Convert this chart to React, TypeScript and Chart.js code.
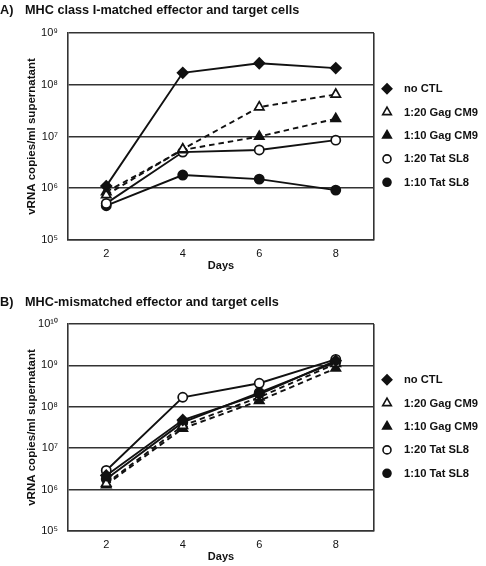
import React, { useEffect, useRef } from 'react';
import { Chart, registerables } from 'chart.js';

Chart.register(...registerables);

const days = [2, 4, 6, 8];
const seriesNames = ['no CTL', '1:20 Gag CM9', '1:10 Gag CM9', '1:20 Tat SL8', '1:10 Tat SL8'];
const panelLetters = ['A)', 'B)'];
const panelTitles = ['MHC class I-matched effector and target cells', 'MHC-mismatched effector and target cells'];
const yAxisTitle = 'vRNA copies/ml supernatant';
const xAxisTitle = 'Days';

// Panel A values (copies/ml)
const aNoCTL = [1.1e6, 1.7e8, 2.6e8, 2.1e8];
const aGag20 = [7.4e5, 5.7e6, 3.7e7, 6.5e7];
const aGag10 = [8.5e5, 5.5e6, 1.0e7, 2.2e7];
const aTat20 = [5.1e5, 5.0e6, 5.5e6, 8.5e6];
const aTat10 = [4.6e5, 1.8e6, 1.5e6, 9.2e5];

// Panel B values (copies/ml)
const bNoCTL = [2.2e6, 4.8e7, 2.0e8, 1.3e9];
const bGag20 = [1.4e6, 3.5e7, 1.7e8, 1.1e9];
const bGag10 = [1.3e6, 3.0e7, 1.4e8, 8.5e8];
const bTat20 = [2.9e6, 1.7e8, 3.7e8, 1.4e9];
const bTat10 = [1.8e6, 4.2e7, 2.2e8, 1.2e9];

const yTicksA = [1e5, 1e6, 1e7, 1e8, 1e9];
const yTicksB = [1e5, 1e6, 1e7, 1e8, 1e9, 1e10];
const xTickLabels = [2, 4, 6, 8];
const xMin = 1;
const xMax = 9;

const FONT = '"Liberation Sans", Arial, Helvetica, sans-serif';
const INK = '#111';
const GRID = '#333';

const markerStyles = ['rectRot', 'triangle', 'triangle', 'circle', 'circle'];
const markerFilled = [true, false, true, false, true];
const markerDashed = [false, true, true, false, false];
const markerRadius = [5.2, 5.4, 5.4, 4.6, 4.6];

const SUP: Record<string, string> = {
  '0': '\u2070', '1': '\u00B9', '2': '\u00B2', '3': '\u00B3', '4': '\u2074',
  '5': '\u2075', '6': '\u2076', '7': '\u2077', '8': '\u2078', '9': '\u2079',
};
const powLabel = (v: number) => {
  const e = Math.round(Math.log10(v));
  return '10' + String(e).split('').map((c) => SUP[c]).join('');
};

function drawMarker(ctx: CanvasRenderingContext2D, style: string, filled: boolean, x: number, y: number) {
  ctx.beginPath();
  if (style === 'rectRot') {
    const r = 4.8;
    ctx.moveTo(x, y - r);
    ctx.lineTo(x + r, y);
    ctx.lineTo(x, y + r);
    ctx.lineTo(x - r, y);
    ctx.closePath();
  } else if (style === 'triangle') {
    const r = 5.0;
    ctx.moveTo(x, y - r);
    ctx.lineTo(x + r * 0.866, y + r * 0.5);
    ctx.lineTo(x - r * 0.866, y + r * 0.5);
    ctx.closePath();
  } else {
    ctx.arc(x, y, 4.0, 0, Math.PI * 2);
  }
  ctx.fillStyle = filled ? INK : '#fff';
  ctx.fill();
  ctx.lineWidth = 1.6;
  ctx.strokeStyle = INK;
  ctx.stroke();
}

const decorPlugin = {
  id: 'panelDecor',
  afterDraw(chart: any, _args: any, opts: any) {
    const ctx: CanvasRenderingContext2D = chart.ctx;
    const area = chart.chartArea;
    ctx.save();
    ctx.fillStyle = INK;
    ctx.textBaseline = 'middle';
    ctx.textAlign = 'left';
    ctx.font = `bold 12.7px ${FONT}`;
    ctx.fillText(opts.letter, 0, opts.titleY);
    ctx.fillText(opts.title, 25, opts.titleY);

    const ds = chart.data.datasets;
    const n = ds.length;
    const spacing = 23.4;
    const cy = (area.top + area.bottom) / 2 - 1;
    ds.forEach((d: any, i: number) => {
      const y = cy + (i - (n - 1) / 2) * spacing;
      drawMarker(ctx, markerStyles[i], markerFilled[i], area.right + 13, y);
      ctx.fillStyle = INK;
      ctx.font = `bold 11.2px ${FONT}`;
      ctx.fillText(d.label, area.right + 30, y + 0.5);
    });
    ctx.restore();
  },
};

function buildDatasets(series: number[][]) {
  return series.map((vals, i) => ({
    label: seriesNames[i],
    data: days.map((d, j) => ({ x: d, y: vals[j] })),
    borderColor: INK,
    backgroundColor: INK,
    borderWidth: 1.9,
    borderDash: markerDashed[i] ? [5.5, 4] : [],
    pointStyle: markerStyles[i],
    pointRadius: markerRadius[i],
    pointBackgroundColor: markerFilled[i] ? INK : '#fff',
    pointBorderColor: INK,
    pointBorderWidth: 1.7,
    fill: false,
    tension: 0,
  }));
}

function Panel(props: {
  series: number[][];
  yTicks: number[];
  letter: string;
  title: string;
  height: number;
  padBottom: number;
  titleY: number;
}) {
  const ref = useRef<HTMLCanvasElement | null>(null);
  useEffect(() => {
    if (!ref.current) return;
    const yT = props.yTicks;
    const chart = new Chart(ref.current, {
      type: 'line',
      data: { datasets: buildDatasets(props.series) as any },
      plugins: [decorPlugin as any],
      options: {
        animation: false,
        responsive: false,
        devicePixelRatio: 1,
        layout: { padding: { top: 33, right: 112, left: 0, bottom: props.padBottom } },
        plugins: {
          legend: { display: false },
          tooltip: { enabled: false },
          title: { display: false },
          panelDecor: { letter: props.letter, title: props.title, titleY: props.titleY },
        } as any,
        scales: {
          x: {
            type: 'linear',
            min: xMin,
            max: xMax,
            afterBuildTicks: (scale: any) => {
              scale.ticks = [xMin, ...xTickLabels, xMax].map((v) => ({ value: v }));
            },
            afterFit: (scale: any) => {
              scale.height = 35;
            },
            ticks: {
              padding: 7,
              color: INK,
              font: { family: FONT, size: 11 },
              maxRotation: 0,
              autoSkip: false,
              callback: (v: any) => (xTickLabels.includes(Number(v)) ? String(v) : ''),
            },
            grid: {
              drawTicks: false,
              lineWidth: 1.6,
              color: (c: any) => (c.tick && c.tick.value === xMax ? GRID : 'rgba(0,0,0,0)'),
            },
            border: { display: true, color: GRID, width: 1.6 },
            title: {
              display: true,
              text: xAxisTitle,
              color: INK,
              font: { family: FONT, size: 11, weight: 'bold' },
              padding: { top: 0, bottom: 2.4 },
            },
          },
          y: {
            type: 'logarithmic',
            min: yT[0],
            max: yT[yT.length - 1],
            afterBuildTicks: (scale: any) => {
              scale.ticks = yT.map((v) => ({ value: v }));
            },
            afterFit: (scale: any) => {
              scale.width = 68;
            },
            ticks: {
              padding: 10,
              color: INK,
              font: { family: FONT, size: 11 },
              autoSkip: false,
              callback: (v: any) => powLabel(Number(v)),
            },
            grid: { drawTicks: false, lineWidth: 1.6, color: GRID },
            border: { display: true, color: GRID, width: 1.6 },
            title: {
              display: true,
              text: yAxisTitle,
              color: INK,
              font: { family: FONT, size: 11.5, weight: 'bold' },
              padding: { top: 25, bottom: 0 },
            },
          },
        },
      } as any,
    });
    return () => chart.destroy();
  }, []);
  return (
    <canvas
      ref={ref}
      width={486}
      height={props.height}
      style={{ display: 'block', width: 486, height: props.height }}
    />
  );
}

export default function App() {
  useEffect(() => {
    document.body.style.margin = '0';
    document.body.style.background = '#fff';
  }, []);
  return (
    <div style={{ width: 486, height: 566, background: '#fff', overflow: 'hidden' }}>
      <Panel
        series={[aNoCTL, aGag20, aGag10, aTat20, aTat10]}
        yTicks={yTicksA}
        letter={panelLetters[0]}
        title={panelTitles[0]}
        height={291}
        padBottom={16}
        titleY={10}
      />
      <Panel
        series={[bNoCTL, bGag20, bGag10, bTat20, bTat10]}
        yTicks={yTicksB}
        letter={panelLetters[1]}
        title={panelTitles[1]}
        height={275}
        padBottom={0}
        titleY={11}
      />
    </div>
  );
}
